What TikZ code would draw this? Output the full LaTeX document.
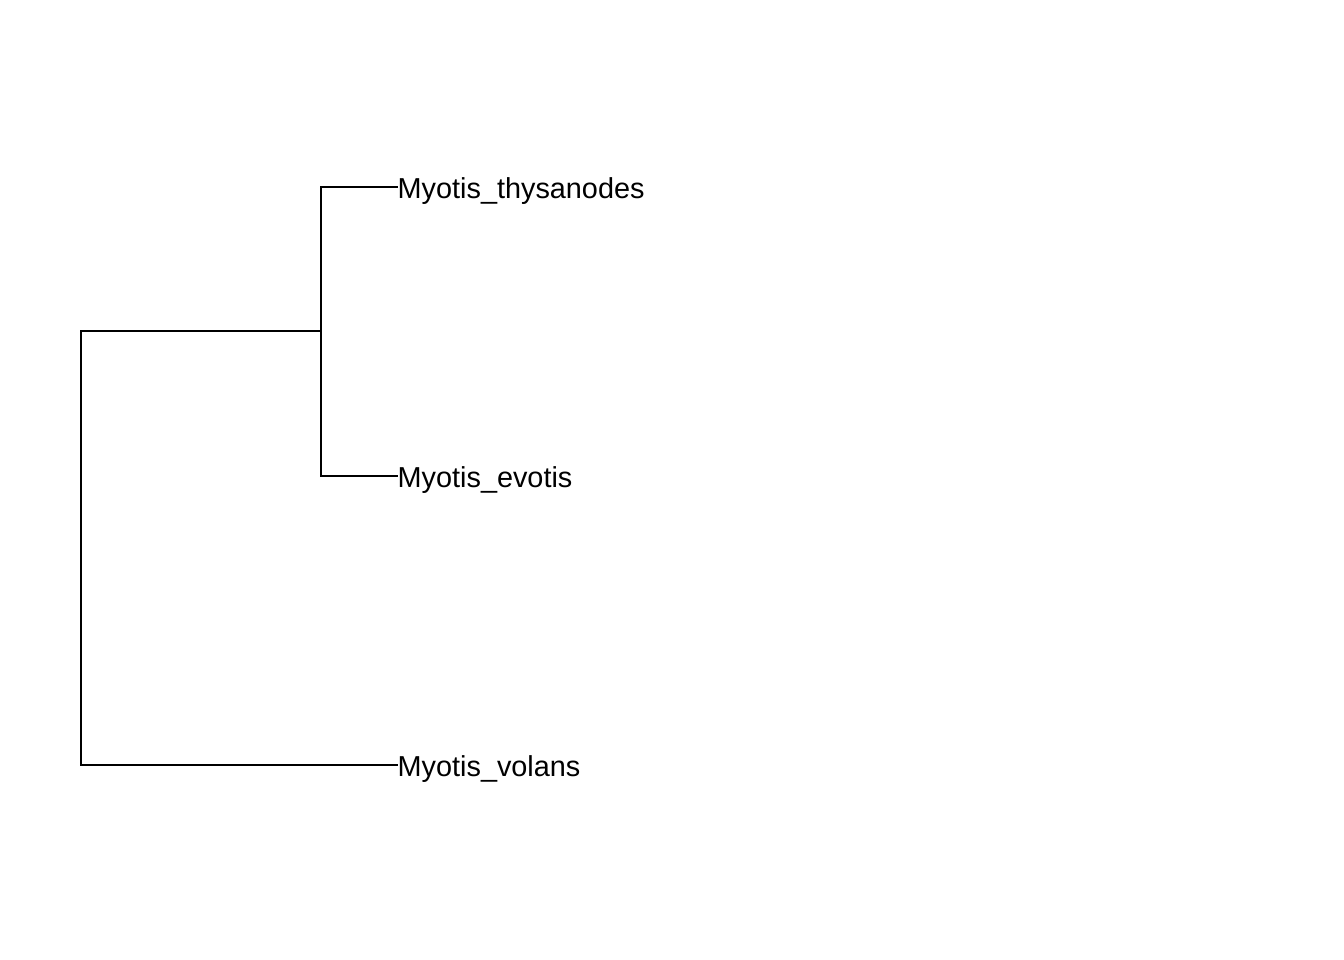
\documentclass[tikz,border=0pt]{standalone}
\usepackage{fontspec}
\setmainfont{Liberation Sans}
\tikzset{
	branch/.style={line width=0.72pt,line cap=rect},
	tip/.style={anchor=base west,inner sep=0pt,font=\fontsize{8.2}{10}\selectfont}
}
\begin{document}
\begin{tikzpicture}[x=0.01cm,y=-0.01cm]
		\useasboundingbox(0,0)rectangle(1344,960);
		\coordinate(root)at(81,548);
		\coordinate(rtop)at(81,331);
		\coordinate(rbot)at(81,765);
		\coordinate(inner)at(321,331);
		\coordinate(itop)at(321,187);
		\coordinate(ibot)at(321,476);
		\coordinate(thy)at(397,187);
		\coordinate(evo)at(397,476);
		\coordinate(vol)at(397,765);
		\node[tip](lthy)at(397,198){Myotis\_thysanodes};
		\node[tip](levo)at(397,487){Myotis\_evotis};
		\node[tip](lvol)at(397,776){Myotis\_volans};
		\draw[branch](rtop)--(rbot)
			(rtop)--(inner)
			(rbot)--(vol)
			(itop)--(ibot)
			(itop)--(thy)
			(ibot)--(evo);
	\end{tikzpicture}
\end{document}
